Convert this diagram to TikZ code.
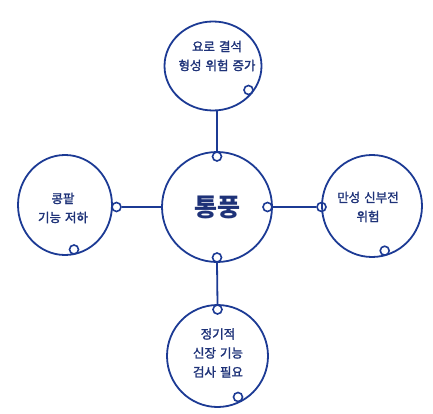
\documentclass[tikz,border=0pt]{standalone}
\usepackage{fontspec}
\newfontfamily\kr{Noto Sans CJK KR}
\newfontfamily\krm{Noto Sans CJK KR}[FakeBold=1.8]
\newcommand\krsp{\kern4pt\relax}
\usetikzlibrary{shapes.geometric}
\definecolor{ink}{HTML}{1C3A94}
\definecolor{txt}{HTML}{1E3278}
\tikzset{
  bubble/.style={ellipse, draw=ink, line width=1.8pt, inner sep=0pt},
  ring/.style={circle, draw=ink, line width=1.6pt, minimum size=9pt, inner sep=0pt},
  wire/.style={draw=ink, line width=1.8pt},
  lbl/.style={text=txt, align=center, inner sep=0pt, text width=96pt, font=\krm\fontsize{12.5}{19}\selectfont},
  big/.style={text=txt, font=\kr\bfseries\fontsize{25}{28}\selectfont}
}
\begin{document}
\begin{tikzpicture}[x=1pt,y=-1pt]
\useasboundingbox (0,0) rectangle (433,414);
% bubbles
\node[bubble, minimum width=97pt, minimum height=89pt] (topc) at (213,66) {};
\node[bubble, minimum width=110pt, minimum height=110pt] (cen) at (217,207) {};
\node[bubble, minimum width=94pt, minimum height=100pt] (lefc) at (65,205) {};
\node[bubble, minimum width=100pt, minimum height=102pt] (rigc) at (372,206) {};
\node[bubble, minimum width=101pt, minimum height=102pt] (botc) at (217.5,356) {};
% loops
\node[ring] (rt) at (248.5,90) {};
\node[ring] (ct) at (217,156.5) {};
\node[ring] (cr) at (267.5,207) {};
\node[ring] (cb) at (217,257.5) {};
\node[ring] (lb) at (74,249.5) {};
\node[ring] (rb) at (384.7,250.7) {};
\node[ring] (bt) at (217.5,309.5) {};
\node[ring] (bb) at (238,397) {};
\node[ring] (lr) at (116.5,207) {};
\node[ring] (rl) at (321.5,207) {};
% connectors
\draw[wire] (ct.north |- topc.south) -- (ct.north);
\draw[wire] (cb.south) -- (bt.north);
\draw[wire] (lr.east) -- (cen.west);
\draw[wire] (cen.east) -- (rl.west);
% texts
\node[lbl] (ttop) at (217,56) {요로\krsp 결석\\형성\krsp 위험\krsp 증가};
\node[big] (tbig) at (217,207) {통풍};
\node[lbl] (tlef) at (63,208) {콩팥\\기능\krsp 저하};
\node[lbl] (trig) at (368,207) {만성\krsp 신부전\\위험};
\node[lbl] (tbot) at (218,353) {정기적\\신장\krsp 기능\\검사\krsp 필요};
\end{tikzpicture}
\end{document}
